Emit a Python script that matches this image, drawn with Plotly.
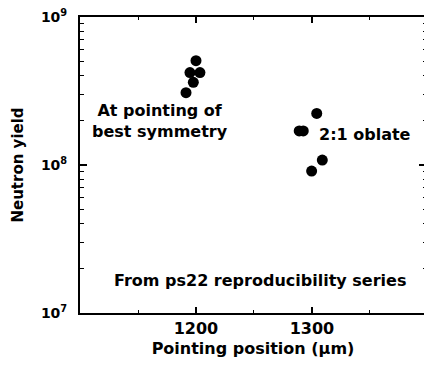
import plotly.graph_objects as go

# pointing position (um) and neutron yield
sym_x = [1200.0, 1194.8, 1203.4, 1197.7, 1191.4]
sym_y = [5.07e8, 4.21e8, 4.21e8, 3.62e8, 3.08e8]

obl_x = [1304.1, 1289.0, 1292.5, 1308.9, 1299.7]
obl_y = [2.23e8, 1.70e8, 1.70e8, 1.08e8, 9.1e7]

x_ticks = [1200, 1300]
y_ticks = [1e7, 1e8, 1e9]
y_tick_text = ["10<sup>7</sup>", "10<sup>8</sup>", "10<sup>9</sup>"]
y_minor = [m * 10 ** e for e in (7, 8) for m in range(2, 10)]

FONT = "DejaVu Sans"
dot = dict(color="black", size=11)

fig = go.Figure()
fig.add_trace(go.Scatter(x=sym_x, y=sym_y, mode="markers", marker=dot,
                         showlegend=False, hoverinfo="skip"))
fig.add_trace(go.Scatter(x=obl_x, y=obl_y, mode="markers", marker=dot,
                         showlegend=False, hoverinfo="skip"))

# figure is 2px wider than the window: the right frame line falls
# just outside the page, only its inward ticks show (as in the scan)
fig.update_layout(
    width=426, height=365,
    margin=dict(l=80, r=0, t=17, b=52),
    paper_bgcolor="white", plot_bgcolor="white",
    font=dict(family=FONT, color="black", weight="bold"),
    xaxis=dict(
        range=[1100, 1398.3], tickmode="array", tickvals=x_ticks,
        ticks="inside", ticklen=6, tickwidth=1.5, tickcolor="black",
        minor=dict(ticks="inside", ticklen=3, tickwidth=1, tickcolor="black",
                   dtick=50, tick0=1100),
        showline=True, linewidth=2, linecolor="black", mirror="ticks",
        showgrid=False, zeroline=False, automargin=False,
        tickfont=dict(size=16, family=FONT, weight="bold"),
        title=dict(text="Pointing position (µm)", standoff=6,
                   font=dict(size=16, family=FONT, weight="bold")),
    ),
    yaxis=dict(
        type="log", range=[7, 9], tickmode="array", tickvals=y_ticks,
        ticktext=y_tick_text,
        ticks="inside", ticklen=7, tickwidth=1.5, tickcolor="black",
        minor=dict(ticks="inside", ticklen=3.5, tickwidth=1,
                   tickcolor="black", tickmode="array", tickvals=y_minor),
        showline=True, linewidth=2, linecolor="black", mirror="ticks",
        showgrid=False, zeroline=False, automargin=False,
        ticklabelstandoff=8,
        tickfont=dict(size=14, family=FONT, weight="bold"),
        title=dict(text="Neutron yield", standoff=14,
                   font=dict(size=15, family=FONT, weight="bold")),
    ),
)

label_font = dict(size=16, family=FONT, color="black", weight="bold")
fig.add_annotation(x=1169, y=8.30, text="At pointing of<br>best symmetry",
                   showarrow=False, font=label_font, align="center")
fig.add_annotation(x=1346, y=8.205, text="2:1 oblate",
                   showarrow=False, font=label_font)
fig.add_annotation(x=1255, y=7.223, text="From ps22 reproducibility series",
                   showarrow=False, font=label_font)

# page margin off so the figure starts at the window's corner
fig.write_html("out.html", config={"displayModeBar": False},
               post_script="document.body.style.margin='0';"
                           "document.body.style.overflow='hidden';")
